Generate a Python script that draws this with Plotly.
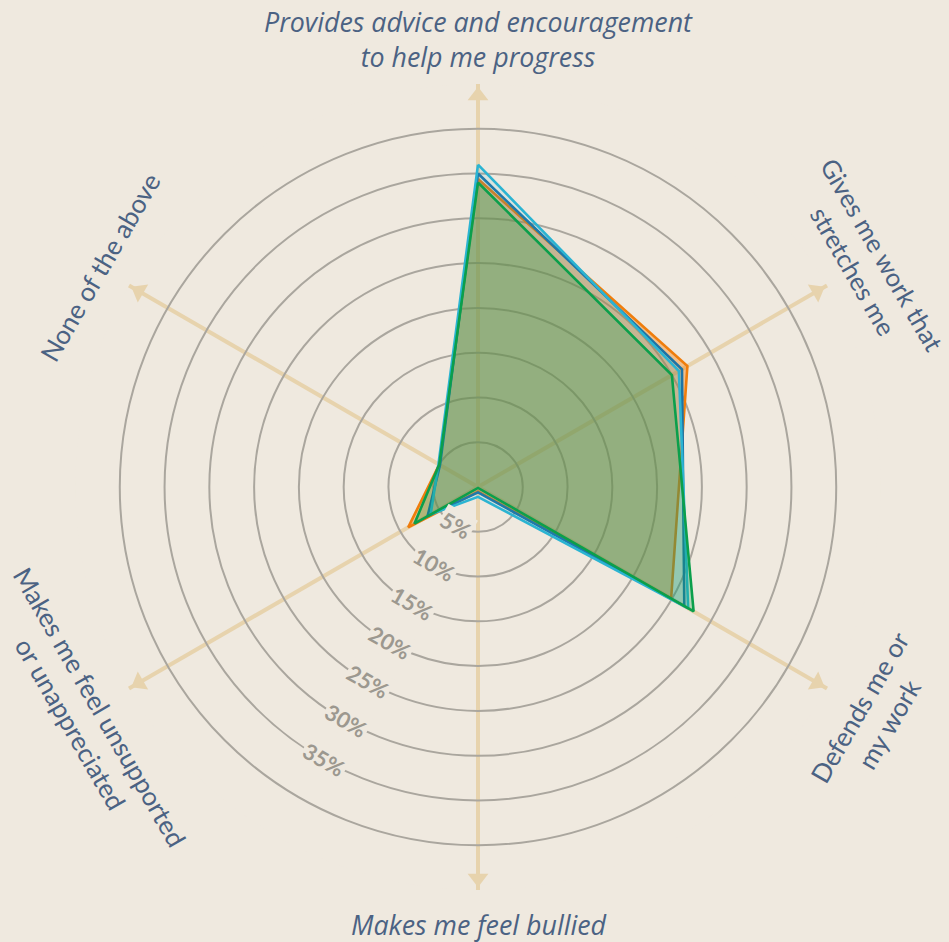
import math
import plotly.graph_objects as go

# ---------------- data ----------------
categories = [
    "Provides advice and encouragement to help me progress",
    "Gives me work that stretches me",
    "Defends me or my work",
    "Makes me feel bullied",
    "Makes me feel unsupported or unappreciated",
    "None of the above",
]
category_labels = [
    "Provides advice and encouragement<br>to help me progress",
    "Gives me work that<br>stretches me",
    "Defends me or<br>my work",
    "Makes me feel bullied",
    "Makes me feel unsupported<br>or unappreciated",
    "None of the above",
]
series_names = ["Group 1", "Group 2", "Group 3", "Group 4"]
orange_vals = [34.4, 27.0, 24.9, 0.5, 9.0, 5.0]
blue_vals = [35.0, 26.3, 26.6, 0.6, 6.5, 4.9]
cyan_vals = [36.0, 25.9, 27.1, 1.1, 6.1, 5.1]
green_vals = [34.0, 25.0, 27.8, 0.1, 8.2, 5.0]
grid_values = [5, 10, 15, 20, 25, 30, 35, 40]
tick_label_values = [5, 10, 15, 20, 25, 30, 35]

# ---------------- style ----------------
W, H = 949, 942
ML, MR, MT, MB = 75, 68, 84, 52
RMAX = 45
BG = "#efe9df"
TAN = "#e7d3ad"
GRID = "#aaa69e"
LABEL = "#4b6283"
TICK = "#9c988f"

fig = go.Figure()

series = [
    (series_names[0], orange_vals, "#ef7d0c", "rgba(239,125,12,0.40)"),
    (series_names[1], blue_vals, "#1d73a6", "rgba(29,115,166,0.10)"),
    (series_names[2], cyan_vals, "#2bb4d2", "rgba(43,180,210,0.10)"),
    (series_names[3], green_vals, "#0b9f4b", "rgba(11,159,75,0.27)"),
]
for name, vals, col, fcol in series:
    fig.add_trace(go.Scatterpolar(
        r=vals + [vals[0]],
        theta=categories + [categories[0]],
        mode="lines",
        fill="toself",
        fillcolor=fcol,
        line=dict(color=col, width=2.6),
        name=name,
        showlegend=False,
    ))

# arrowheads at the end of each axis
fig.add_trace(go.Scatterpolar(
    r=[RMAX - 1.3] * len(categories),
    theta=categories,
    mode="markers",
    marker=dict(symbol="triangle-up", size=18, color=TAN,
                angle=[i * 60 for i in range(len(categories))]),
    cliponaxis=False,
    hoverinfo="skip",
    showlegend=False,
))

fig.update_layout(
    width=W, height=H,
    margin=dict(l=ML, r=MR, t=MT, b=MB),
    paper_bgcolor=BG,
    plot_bgcolor=BG,
    showlegend=False,
    polar=dict(
        bgcolor=BG,
        domain=dict(x=[0, 1], y=[0, 1]),
        radialaxis=dict(
            range=[0, RMAX],
            tickvals=grid_values,
            showticklabels=False,
            ticks="",
            showline=False,
            gridcolor=GRID,
            gridwidth=1.5,
        ),
        angularaxis=dict(
            type="category",
            categoryarray=categories,
            rotation=90,
            direction="clockwise",
            showticklabels=False,
            ticks="",
            showline=False,
            gridcolor=TAN,
            gridwidth=3.5,
        ),
    ),
)

# radial tick labels along ~240 degrees, sitting on the circles
pw = W - ML - MR
ph = H - MT - MB
ang = math.radians(240.5)
for v in tick_label_values:
    f = 0.5 * v / RMAX
    fig.add_annotation(
        x=0.5 + f * math.cos(ang), y=0.5 + f * math.sin(ang),
        xref="paper", yref="paper", showarrow=False,
        xanchor="center", yanchor="middle",
        text=f"{v}%", textangle=30,
        font=dict(family="Lato", size=22, color=TICK, weight="bold"),
        bgcolor=BG, borderpad=1,
    )

# category labels (pixel centres converted to paper coordinates)
def px2paper(px, py):
    return (px - ML) / pw, 1 - (py - MT) / ph

label_pos = [(479, 39), (868, 262), (874, 716), (479, 925), (85, 715), (100, 267)]
label_angle = [0, 60, -60, 0, 60, -60]
label_italic = [True, False, False, True, False, False]
label_size = [26.8, 25.5, 26, 26.8, 26, 26]
for txt, (px, py), a, it, sz in zip(category_labels, label_pos, label_angle,
                                     label_italic, label_size):
    x, y = px2paper(px, py)
    fig.add_annotation(
        x=x, y=y, xref="paper", yref="paper", showarrow=False,
        xanchor="center", yanchor="middle",
        text=txt, textangle=a, align="center",
        font=dict(family="Open Sans" if it else "Lato",
                  size=sz, color=LABEL,
                  style="italic" if it else "normal"),
    )

fig.write_html("out.html", config={"displayModeBar": False},
               post_script="document.body.style.margin='0';")
